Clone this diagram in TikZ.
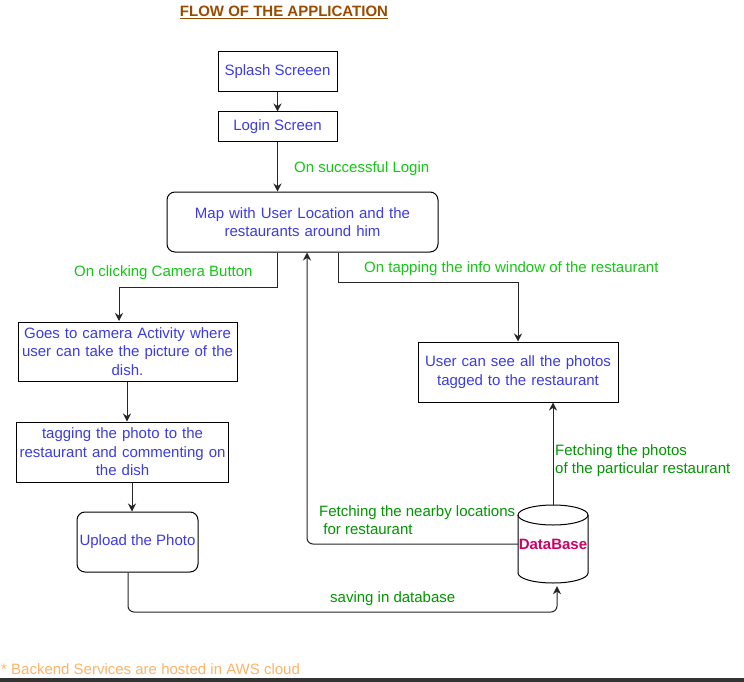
\documentclass[tikz,border=0pt]{standalone}
\usepackage{fontspec}
\setmainfont{Liberation Sans}
\usetikzlibrary{arrows.meta,calc}
\definecolor{txtblue}{RGB}{60,60,230}
\definecolor{lblgreen}{RGB}{20,200,20}
\definecolor{dkgreen}{RGB}{0,150,0}
\definecolor{titlebrown}{RGB}{153,76,0}
\definecolor{dbpink}{RGB}{204,0,102}
\definecolor{footorange}{RGB}{255,179,102}
\tikzset{
  box/.style={draw=black, line width=1pt, text=txtblue, align=center, inner sep=2pt, font=\fontsize{15}{18.5}\selectfont},
  rbox/.style={box, rounded corners=8pt},
  conn/.style={draw=black!85, line width=1pt, -{Stealth[length=8pt,width=8pt]}},
  lbl/.style={text=lblgreen, font=\fontsize{15}{18}\selectfont, inner sep=0pt},
  lbldk/.style={text=dkgreen, font=\fontsize{15}{18}\selectfont, inner sep=0pt, align=left},
}
\begin{document}
\begin{tikzpicture}[x=1pt,y=-1pt]
\useasboundingbox (0,0) rectangle (744,682);
\fill[white] (0,0) rectangle (744,682);
\fill[black!80] (0,678) rectangle (744,682);

\node[text=titlebrown, font=\bfseries\fontsize{15}{18}\selectfont, inner sep=0pt] (title) at (284,12) {\underline{FLOW OF THE APPLICATION}};

\node[box, minimum width=119pt, minimum height=40pt] (splash) at (277.5,72) {Splash Screeen};
\node[box, minimum width=119pt, minimum height=30pt] (login) at (277.5,127) {Login Screen};
\node[rbox, minimum width=271pt, minimum height=60pt, text width=265pt] (map) at (302.5,222) {Map with User Location and the\\restaurants around him};
\node[box, minimum width=219pt, minimum height=59pt, text width=215pt] (goes) at (127.5,351.5) {Goes to camera Activity where\\user can take the picture of the\\dish.};
\node[box, minimum width=211pt, minimum height=60pt, text width=208pt] (tag) at (122.5,452) {tagging the photo to the\\restaurant and commenting on\\the dish};
\node[rbox, minimum width=121pt, minimum height=60pt] (upload) at (137.5,542) {Upload the Photo};
\node[box, minimum width=200pt, minimum height=60pt, text width=195pt] (user) at (518,372) {User can see all the photos\\tagged to the restaurant};

% database cylinder
\draw[line width=1pt, fill=white] (518,515) -- (518,573) arc[start angle=180, end angle=360, x radius=35pt, y radius=10pt] -- (588,515) arc[start angle=0, end angle=180, x radius=35pt, y radius=10pt];
\draw[line width=1pt] (518,515) arc[start angle=180, end angle=360, x radius=35pt, y radius=10pt];
\node[minimum width=70pt, minimum height=78pt, inner sep=0pt, text=dbpink, font=\bfseries\fontsize{15}{18}\selectfont] (db) at (553,544) {DataBase};

% connectors
\draw[conn] (splash.south) -- (login.north);
\draw[conn] (login.south) -- (map.north -| login.south);
\node[lbl, anchor=west] (l1) at (294,169) {On successful Login};

\draw[conn] (map.south -| login.south) -- (277.5,287) -| (119,321);
\node[lbl, anchor=west] (l2) at (74,273) {On clicking Camera Button};

\draw[conn] (map.south -| 338,0) -- (338,282) -| (user.north);
\node[lbl, anchor=west] (l3) at (364,269) {On tapping the info window of the restaurant};

\draw[conn] (goes.south -| 127,0) -- (tag.north -| 127,0);
\draw[conn] (tag.south -| 132,0) -- (upload.north -| 132,0);

\draw[conn] (db.north) -- (user.south -| db.north);
\node[lbldk, anchor=north west] (l4) at (555,444) {Fetching the photos\\of the particular restaurant};

\draw[conn, rounded corners=6pt] (db.west) -- (307,544) -- (map.south -| 307,0);
\node[lbldk, anchor=north west] (l5) at (319,505) {Fetching the nearby locations\\\ for restaurant};

\draw[conn, rounded corners=6pt] (upload.south -| 128,0) -- (128,612) -| ($(db.south)+(4,3)$);
\node[lbldk, anchor=west] (l6) at (330,599) {saving in database};

\node[text=footorange, font=\fontsize{15}{18}\selectfont, anchor=west, inner sep=0pt] (foot) at (1,669) {* Backend Services are hosted in AWS cloud};
\end{tikzpicture}
\end{document}
